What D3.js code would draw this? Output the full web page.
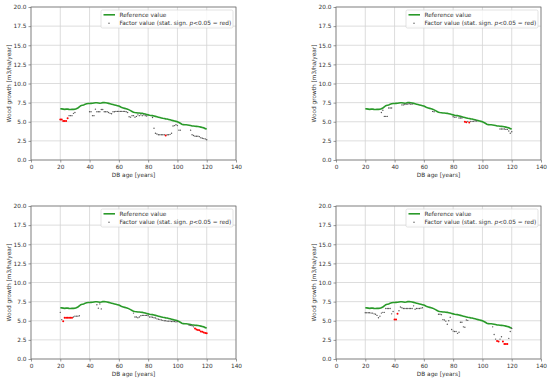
<!DOCTYPE html>
<html>
<head>
<meta charset="utf-8">
<script src="https://cdn.jsdelivr.net/npm/d3@7"></script>
<style>
  body { margin: 0; background: #fff; }
  text { font-family: "DejaVu Sans", sans-serif; }
</style>
</head>
<body>
<div id="chart"></div>
<script>
// reference curve (same on every panel)
var refAges = [20,21,22,23,24,25,26,27,28,29,30,31,32,33,34,35,36,37,38,39,40,41,42,43,44,45,46,47,48,49,50,51,52,53,54,55,56,57,58,59,60,61,62,63,64,65,66,67,68,69,70,71,72,73,74,75,76,77,78,79,80,81,82,83,84,85,86,87,88,89,90,91,92,93,94,95,96,97,98,99,100,101,102,103,104,105,106,107,108,109,110,111,112,113,114,115,116,117,118,119,120];
var refValues = [6.70,6.68,6.65,6.62,6.65,6.65,6.62,6.60,6.62,6.62,6.65,6.70,6.80,6.95,7.10,7.15,7.20,7.30,7.35,7.38,7.38,7.40,7.42,7.45,7.48,7.48,7.45,7.42,7.45,7.50,7.50,7.48,7.45,7.40,7.35,7.30,7.25,7.20,7.15,7.10,7.05,6.95,6.85,6.80,6.75,6.70,6.65,6.55,6.45,6.35,6.25,6.20,6.18,6.15,6.15,6.12,6.10,6.05,6.00,5.95,5.90,5.85,5.82,5.80,5.75,5.70,5.65,5.60,5.55,5.50,5.45,5.42,5.38,5.35,5.30,5.25,5.20,5.15,5.10,5.05,5.00,4.90,4.80,4.68,4.62,4.60,4.60,4.58,4.55,4.50,4.45,4.45,4.42,4.40,4.38,4.35,4.30,4.25,4.20,4.10,4.05];

// factor values, one set per panel
var ages1 = [20,21,22,23,24,25,26,27,28,29,30,40,41,42,43,44,45,46,47,48,49,50,51,52,53,54,55,56,57,58,59,60,61,62,63,64,65,66,67,68,69,70,71,72,73,74,75,76,77,78,79,83,84,85,86,87,88,89,90,91,92,93,94,95,96,97,98,99,100,101,102,109,110,111,112,113,114,115,116,117,118,119,120];
var values1 = [5.3,5.3,5.1,5.1,5.1,5.45,5.8,5.8,5.8,6.1,6.2,
  6.3,6.3,5.8,5.8,6.65,6.3,6.3,6.3,6.6,6.6,
  6.3,6.3,6.3,6.2,6.1,6.05,6.3,6.3,6.35,6.35,
  6.35,6.35,6.35,6.35,6.35,6.3,6.2,5.65,5.6,5.8,
  5.8,5.6,5.7,5.9,5.8,5.9,5.8,5.9,5.8,5.75,
  5.55,4.15,3.5,3.4,3.3,3.3,3.3,3.3,3.3,3.2,
  3.3,3.3,3.35,3.5,4.45,4.5,4.6,4.5,3.9,3.9,
  3.9,3.3,3.2,3.1,3.1,3.1,3.05,2.9,2.85,2.8,2.75,2.65];
var sig1 = [20,21,22,23,24,25,92];

var ages2 = [31,32,33,34,35,36,37,38,45,46,47,48,49,50,51,52,66,67,80,81,82,84,85,86,88,89,90,91,92,93,94,95,96,112,113,114,115,116,117,118,119,120];
var values2 = [6.2,6.5,5.7,5.7,5.7,6.8,6.8,6.8,
  7.2,7.2,7.25,7.3,7.3,7.35,7.3,7.3,
  6.35,6.3,
  5.65,5.6,5.6,5.5,5.5,5.5,
  5.0,4.95,5.05,4.9,5.05,5.05,5.05,5.1,5.1,
  4.05,4.05,4.05,4.05,4.0,4.0,3.8,3.5,3.7];
var sig2 = [88,89,91];

var ages3 = [20,21,22,23,24,25,26,27,28,29,30,31,32,33,45,46,47,48,70,71,72,73,74,75,76,77,78,79,80,81,82,83,84,85,86,87,88,89,90,91,92,93,94,95,96,97,98,99,100,108,109,110,111,112,113,114,115,116,117,118,119,120];
var values3 = [6.1,5.15,4.95,5.4,5.4,5.4,5.4,5.4,5.4,5.5,5.6,5.6,5.6,5.65,
  7.1,6.65,7.2,6.55,
  6.0,5.5,5.5,5.4,5.5,5.65,5.7,5.7,5.7,5.7,
  5.65,5.5,5.5,5.45,5.4,5.35,5.25,5.2,5.15,5.1,
  5.05,5.0,5.0,4.95,4.95,4.95,4.9,4.9,4.9,4.85,4.9,
  4.4,4.4,4.35,4.2,4.0,3.85,3.8,3.75,3.6,3.55,3.45,3.4,3.35];
var sig3 = [22,23,24,25,26,27,28,112,113,114,115,116,117,118,119,120];

var ages4 = [20,21,22,23,24,25,26,27,28,29,30,31,32,33,34,35,36,37,38,39,40,41,42,43,44,45,46,47,48,49,50,51,52,53,54,55,56,57,58,59,70,71,72,73,74,75,76,77,78,79,80,81,82,83,84,85,86,87,88,89,90,107,108,109,110,111,112,113,114,115,116,117,118,119,120];
var values4 = [6.05,6.05,6.05,6.05,6.0,6.0,5.9,5.85,5.7,5.4,
  5.6,6.0,6.1,6.1,6.6,6.6,6.6,6.6,5.9,6.2,
  5.15,5.15,5.9,6.3,6.8,6.7,6.6,6.6,6.6,6.6,
  6.6,6.6,6.6,6.95,6.5,6.6,6.6,6.6,6.65,6.7,
  5.85,5.85,5.8,5.15,5.1,4.95,4.55,5.0,5.45,3.85,
  3.65,3.6,3.6,3.35,3.5,4.8,4.8,4.2,4.15,5.1,
  5.05,
  4.2,3.2,2.6,2.35,2.3,2.6,2.9,2.3,1.95,1.95,1.95,2.7,3.6,4.0];
var sig4 = [40,41,42,110,111,114,115,116,117];

var xTicks = [0, 20, 40, 60, 80, 100, 120, 140];
var yTicks = [0, 2.5, 5, 7.5, 10, 12.5, 15, 17.5, 20];

var panels = [
  { left: 31, top: 7, ages: ages1, values: values1, sig: sig1 },
  { left: 336, top: 7, ages: ages2, values: values2, sig: sig2 },
  { left: 31, top: 206, ages: ages3, values: values3, sig: sig3 },
  { left: 336, top: 206, ages: ages4, values: values4, sig: sig4 }
];

var width = 205,
  height = 153;
var fs = "5.8px";
var green = "#2a9a2a";

var svg = d3
  .select("#chart")
  .append("svg")
  .attr("width", 550)
  .attr("height", 382);

var x = d3.scaleLinear().domain([0, 140]).range([0, width]);
var y = d3.scaleLinear().domain([0, 20]).range([height, 0]);

var refData = refAges.map(function (a, i) {
  return { age: a, value: refValues[i] };
});

panels.forEach(function (p) {
  var g = svg
    .append("g")
    .attr("transform", "translate(" + p.left + "," + p.top + ")");

  // grid
  g.append("g")
    .selectAll("line")
    .data(xTicks)
    .enter()
    .append("line")
    .attr("x1", (d) => x(d))
    .attr("x2", (d) => x(d))
    .attr("y1", 0)
    .attr("y2", height)
    .attr("stroke", "#d4d4d4")
    .attr("stroke-width", 0.8);
  g.append("g")
    .selectAll("line")
    .data(yTicks)
    .enter()
    .append("line")
    .attr("x1", 0)
    .attr("x2", width)
    .attr("y1", (d) => y(d))
    .attr("y2", (d) => y(d))
    .attr("stroke", "#d4d4d4")
    .attr("stroke-width", 0.8);

  // reference line
  var line = d3
    .line()
    .x((d) => x(d.age))
    .y((d) => y(d.value));
  g.append("path")
    .datum(refData)
    .attr("d", line)
    .attr("fill", "none")
    .attr("stroke", green)
    .attr("stroke-width", 1.6);

  // factor points
  var pts = p.ages.map(function (a, i) {
    return { age: a, value: p.values[i], sig: p.sig.indexOf(a) >= 0 };
  });
  g.append("g")
    .selectAll("circle")
    .data(pts)
    .enter()
    .append("circle")
    .attr("cx", (d) => x(d.age))
    .attr("cy", (d) => y(d.value))
    .attr("r", (d) => (d.sig ? 1.0 : 0.7))
    .attr("fill", (d) => (d.sig ? "#ff0000" : "#555"));

  // axes
  var xAxis = g
    .append("g")
    .attr("transform", "translate(0," + height + ")")
    .call(d3.axisBottom(x).tickValues(xTicks).tickSize(2.5).tickPadding(2));
  var yAxis = g
    .append("g")
    .call(
      d3
        .axisLeft(y)
        .tickValues(yTicks)
        .tickSize(2.5)
        .tickPadding(2)
        .tickFormat(d3.format(".1f"))
    );
  [xAxis, yAxis].forEach(function (a) {
    a.selectAll("text").style("font-size", fs).attr("fill", "#333");
    a.selectAll("line").attr("stroke", "#555").attr("stroke-width", 0.6);
    a.select(".domain").remove();
  });

  // frame
  g.append("rect")
    .attr("width", width)
    .attr("height", height)
    .attr("fill", "none")
    .attr("stroke", "#666")
    .attr("stroke-width", 0.7);

  g.append("text")
    .attr("text-anchor", "middle")
    .attr("x", width / 2)
    .attr("y", height + 16.5)
    .style("font-size", fs)
    .attr("fill", "#333")
    .text("DB age [years]");

  g.append("text")
    .attr("text-anchor", "middle")
    .attr("transform", "rotate(-90)")
    .attr("x", -height / 2)
    .attr("y", -20)
    .style("font-size", fs)
    .attr("fill", "#333")
    .text("Wood growth [m3/ha/year]");

  // legend
  var lg = g.append("g").attr("transform", "translate(" + (width - 135) + ",3)");
  lg.append("rect")
    .attr("width", 132)
    .attr("height", 18)
    .attr("rx", 1.5)
    .attr("fill", "#fff")
    .attr("fill-opacity", 0.8)
    .attr("stroke", "#d0d0d0")
    .attr("stroke-width", 0.6);
  lg.append("line")
    .attr("x1", 2.5)
    .attr("x2", 14)
    .attr("y1", 4.8)
    .attr("y2", 4.8)
    .attr("stroke", green)
    .attr("stroke-width", 1.6);
  lg.append("circle")
    .attr("cx", 8)
    .attr("cy", 13.3)
    .attr("r", 0.7)
    .attr("fill", "#555");
  lg.append("text")
    .attr("x", 18.5)
    .attr("y", 7)
    .style("font-size", fs)
    .attr("fill", "#333")
    .text("Reference value");
  var t2 = lg
    .append("text")
    .attr("x", 18.5)
    .attr("y", 15.4)
    .style("font-size", fs)
    .attr("fill", "#333");
  t2.append("tspan").text("Factor value (stat. sign. ");
  t2.append("tspan").style("font-style", "italic").text("p");
  t2.append("tspan").text("<0.05 = red)");
});
</script>
</body>
</html>
